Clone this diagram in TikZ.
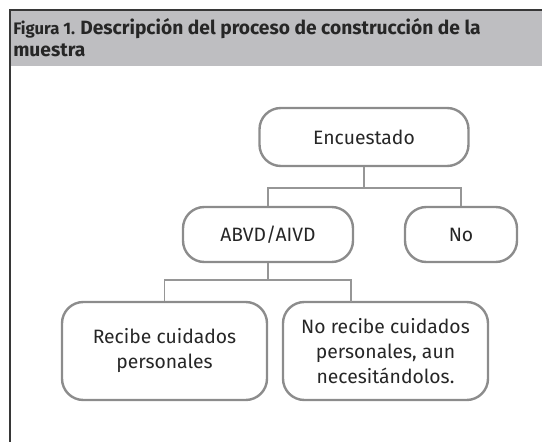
\documentclass[tikz,border=0pt]{standalone}
\usepackage{fontspec}
\setmainfont{Fira Sans}
\definecolor{hdr}{RGB}{190,190,193}
\definecolor{boxc}{RGB}{140,140,140}
\definecolor{linec}{RGB}{150,150,150}
\definecolor{frame}{RGB}{55,55,55}
\begin{document}
\begin{tikzpicture}[x=0.75pt,y=-0.75pt,
  rbox/.style={draw=boxc,line width=2.4pt*0.75,rounded corners=16pt,align=center,
    font=\fontsize{14.5}{18.75}\selectfont,text=black!85,inner sep=0pt},
  conn/.style={draw=linec,line width=1.8pt*0.75}]
\useasboundingbox (0,0) rectangle (542,442);
\fill[hdr] (10,10) rectangle (542,66);
\draw[frame,line width=1.1pt] (10,442) -- (10,10) -- (542,10);
\node[anchor=base west,text=black!85,inner sep=0pt] (title) at (13,35)
  {\fontsize{12.5}{14}\selectfont\bfseries Figura 1. \fontsize{14.4}{18}\selectfont Descripción del proceso de construcción de la};
\node[anchor=base west,text=black!85,inner sep=0pt] (title2) at (13,57)
  {\fontsize{14.4}{18}\selectfont\bfseries muestra};
\node[rbox,minimum width=209*0.75pt,minimum height=58*0.75pt] (enc) at (364,137) {Encuestado};
\node[rbox,minimum width=170*0.75pt,minimum height=55*0.75pt] (abvd) at (268,234.5) {ABVD/AIVD};
\node[rbox,minimum width=112*0.75pt,minimum height=55*0.75pt] (no) at (461,234.5) {No};
\node[rbox,minimum width=205*0.75pt,minimum height=98*0.75pt] (rec) at (164.5,351) {Recibe cuidados\\personales};
\node[rbox,minimum width=205*0.75pt,minimum height=98*0.75pt] (norec) at (385.5,351) {No recibe cuidados\\personales, aun\\necesitándolos.};
\coordinate (j1) at (364,188);
\coordinate (j2) at (268,280);
\coordinate (c2) at (351,302);
\draw[conn] (enc.south) -- (j1);
\draw[conn] (abvd.north) |- (j1) -| (no.north);
\draw[conn] (abvd.south) -- (j2);
\draw[conn] (rec.north) |- (j2) -| (c2);
\end{tikzpicture}
\end{document}
